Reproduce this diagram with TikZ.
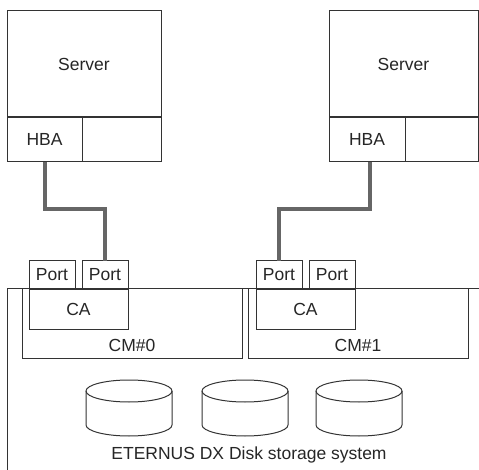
\documentclass[tikz,border=0pt]{standalone}
\usepackage{fontspec}
\setmainfont{Liberation Sans}
\begin{document}
\begin{tikzpicture}[x=1pt,y=-1pt,
  box/.style={draw=black!80, line width=1pt, rectangle, inner sep=0pt, outer sep=0pt, anchor=north west, text=black!85, font=\fontsize{17.5}{20}\selectfont},
  lbl/.style={inner sep=0pt, text=black!85, font=\fontsize{17.5}{20}\selectfont},
  cable/.style={draw=black!60, line width=4pt},
  thin/.style={draw=black!80, line width=1pt}]
\useasboundingbox (0,0) rectangle (479,470);
% servers
\node[box, minimum width=154pt, minimum height=106pt] (srv1) at (7,11) {Server};
\node[box, minimum width=75pt, minimum height=45pt] (hba1) at (7,117) {HBA};
\node[box, minimum width=79pt, minimum height=45pt] (blk1) at (82,117) {};
\node[box, minimum width=149pt, minimum height=106pt] (srv2) at (329,11) {Server};
\node[box, minimum width=76pt, minimum height=45pt] (hba2) at (329,117) {HBA};
\node[box, minimum width=73pt, minimum height=45pt] (blk2) at (405,117) {};
\draw[thin, line width=1.8pt] (srv1.south west) -- (srv1.south east);
\draw[thin, line width=1.8pt] (srv2.south west) -- (srv2.south east);
% enclosure
\draw[thin] (7,470) -- (7,289) -- (479,289);
% CMs
\node[box, minimum width=220pt, minimum height=69pt] (cm0) at (22,289) {};
\node[box, minimum width=220pt, minimum height=69pt] (cm1) at (248,289) {};
\node[lbl] (cm0l) at (132,345) {CM\#0};
\node[lbl] (cm1l) at (358,345) {CM\#1};
% CAs
\node[box, minimum width=99pt, minimum height=40pt] (ca0) at (29,289) {CA};
\node[box, minimum width=99pt, minimum height=40pt] (ca1) at (256,289) {CA};
% ports
\node[box, minimum width=46pt, minimum height=28pt] (p1a) at (29,261) {Port};
\node[box, minimum width=46pt, minimum height=28pt] (p1b) at (82,261) {Port};
\node[box, minimum width=46pt, minimum height=28pt] (p2a) at (256,261) {Port};
\node[box, minimum width=46pt, minimum height=28pt] (p2b) at (309,261) {Port};
% cables
\draw[cable] (hba1.south) -- ++(0,47) -| (p1b.north);
\draw[cable] ([xshift=3pt]hba2.south) -- ++(0,47) -| (p2a.north);
% disks
\foreach \x in {86,202,316}{
  \draw[thin, fill=white] (\x,391) -- (\x,425) arc[start angle=180, end angle=360, x radius=43pt, y radius=11pt] -- (\x+86,391);
  \draw[thin] (\x+43,391) ellipse[x radius=43pt, y radius=11pt];
}
\node[lbl] (sys) at (249,455) {ETERNUS DX Disk storage system};
\end{tikzpicture}
\end{document}
